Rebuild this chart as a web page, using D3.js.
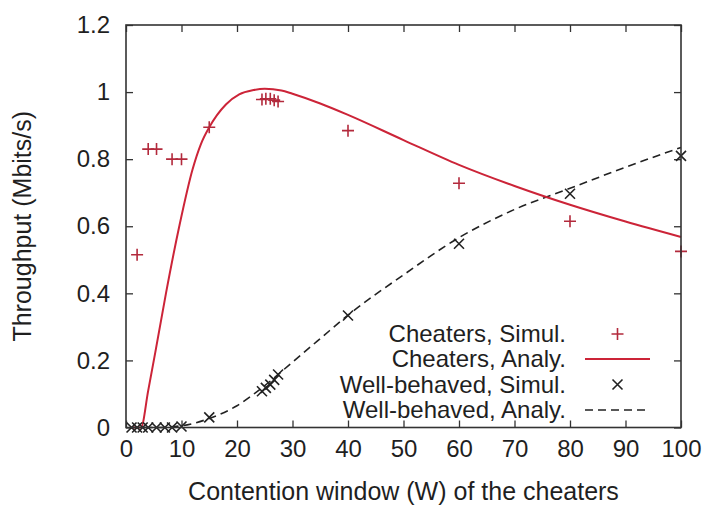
<!DOCTYPE html>
<html>
<head>
<meta charset="utf-8">
<script src="https://cdn.jsdelivr.net/npm/d3@7"></script>
<style>
  html, body { margin: 0; padding: 0; background: #fff; }
  svg { display: block; }
  text { font-family: "Liberation Sans", Arial, Helvetica, sans-serif; fill: #1f1f1f; }
</style>
</head>
<body>
<svg id="chart" width="706" height="505"></svg>
<script>
// Throughput of cheaters vs. well-behaved stations as a function of the cheaters' contention window

// Cheaters, simulation
const cheatSimW = [2, 4, 5.5, 8.3, 10, 15, 24.5, 25.2, 26, 26.7, 27.4, 40, 60, 80, 100];
const cheatSimT = [0.515, 0.83, 0.83, 0.80, 0.80, 0.895, 0.978, 0.98, 0.98, 0.976, 0.972, 0.885, 0.728, 0.615, 0.525];

// Cheaters, analytical model
const cheatAnaW = [1, 2.7, 4, 5.4, 7.2, 9.6, 12, 13.5, 15, 18, 20.4, 23, 25, 28, 30, 35, 40, 50, 60, 70, 80, 90, 100];
const cheatAnaT = [0, 0, 0.11, 0.235, 0.4, 0.6, 0.77, 0.845, 0.895, 0.963, 0.993, 1.006, 1.01, 1.005, 0.995, 0.966, 0.932, 0.857, 0.783, 0.72, 0.664, 0.614, 0.568];

// Well-behaved stations, simulation
const wellSimW = [1, 2, 3, 4, 5.5, 7, 8.3, 10, 15, 24.5, 25.2, 26, 26.7, 27.4, 40, 60, 80, 100];
const wellSimT = [0, 0, 0, 0, 0, 0, 0, 0.003, 0.03, 0.108, 0.118, 0.128, 0.142, 0.158, 0.334, 0.548, 0.697, 0.81];

// Well-behaved stations, analytical model
const wellAnaW = [1, 5, 10, 15, 20, 25, 30, 35, 40, 50, 60, 70, 80, 90, 100];
const wellAnaT = [0, 0, 0.005, 0.027, 0.065, 0.125, 0.195, 0.265, 0.335, 0.455, 0.566, 0.65, 0.713, 0.776, 0.835];

// Axis ticks and labels
const xTicks = [0, 10, 20, 30, 40, 50, 60, 70, 80, 90, 100];
const yTicks = [0, 0.2, 0.4, 0.6, 0.8, 1, 1.2];
const yTickLabels = ["0", "0.2", "0.4", "0.6", "0.8", "1", "1.2"];
const xTitle = "Contention window (W) of the cheaters";
const yTitle = "Throughput (Mbits/s)";
const legendLabels = ["Cheaters, Simul.", "Cheaters, Analy.", "Well-behaved, Simul.", "Well-behaved, Analy."];

const RED = "#cc2438";
const RED_MARK = "#b32a3c";
const BLACK = "#222";

const svg = d3.select("#chart");
const plot = { left: 126, top: 25, right: 681, bottom: 427.5 };

const x = d3.scaleLinear().domain([0, 100]).range([plot.left, plot.right]);
const y = d3.scaleLinear().domain([0, 1.2]).range([plot.bottom, plot.top]);

const zip = (ws, ts) => ws.map((w, i) => ({ w, t: ts[i] }));

// Axes: inward ticks on all four sides
const tickLen = 7;
const bottom = svg.append("g").attr("transform", `translate(0,${plot.bottom})`)
  .call(d3.axisBottom(x).tickValues(xTicks).tickSize(-tickLen).tickPadding(12).tickFormat(d3.format("d")));
const left = svg.append("g").attr("transform", `translate(${plot.left},0)`)
  .call(d3.axisLeft(y).tickValues(yTicks).tickSize(-tickLen).tickPadding(16)
    .tickFormat((d, i) => yTickLabels[i]));
svg.append("g").attr("transform", `translate(0,${plot.top})`)
  .call(d3.axisTop(x).tickValues(xTicks).tickSize(-tickLen).tickFormat(""));
svg.append("g").attr("transform", `translate(${plot.right},0)`)
  .call(d3.axisRight(y).tickValues(yTicks).tickSize(-tickLen).tickFormat(""));

svg.selectAll(".domain").remove();
svg.selectAll(".tick line").attr("stroke", "#333").attr("stroke-width", 1.3);
svg.selectAll(".tick text").attr("font-size", 24).attr("fill", "#1f1f1f")
  .style("font-family", '"Liberation Sans", Arial, sans-serif');
bottom.selectAll(".tick text").attr("dy", "0.72em");

// Axis titles
svg.append("text")
  .attr("x", (plot.left + plot.right) / 2).attr("y", 500)
  .attr("text-anchor", "middle").attr("font-size", 25)
  .text(xTitle);
svg.append("text")
  .attr("transform", `translate(31,${(plot.top + plot.bottom) / 2}) rotate(-90)`)
  .attr("text-anchor", "middle").attr("font-size", 25)
  .text(yTitle);

// Curves
const line = d3.line().x(d => x(d.w)).y(d => y(d.t)).curve(d3.curveMonotoneX);

svg.append("path").datum(zip(wellAnaW, wellAnaT))
  .attr("d", line).attr("fill", "none")
  .attr("stroke", BLACK).attr("stroke-width", 1.6).attr("stroke-dasharray", "8,5");

svg.append("path").datum(zip(cheatAnaW, cheatAnaT))
  .attr("d", line).attr("fill", "none")
  .attr("stroke", RED).attr("stroke-width", 2);

// Point markers
const plusPath = "M-6,0H6M0,-6V6";
const crossPath = "M-5,-5L5,5M-5,5L5,-5";

svg.append("g").selectAll("path").data(zip(wellSimW, wellSimT)).join("path")
  .attr("transform", d => `translate(${x(d.w)},${y(d.t)})`)
  .attr("d", crossPath).attr("stroke", BLACK).attr("stroke-width", 1.6).attr("fill", "none");

svg.append("g").selectAll("path").data(zip(cheatSimW, cheatSimT)).join("path")
  .attr("transform", d => `translate(${x(d.w)},${y(d.t)})`)
  .attr("d", plusPath).attr("stroke", RED_MARK).attr("stroke-width", 1.6).attr("fill", "none");

// Frame
svg.append("rect")
  .attr("x", plot.left).attr("y", plot.top)
  .attr("width", plot.right - plot.left).attr("height", plot.bottom - plot.top)
  .attr("fill", "none").attr("stroke", "#333").attr("stroke-width", 1.6);

// Legend
const legX = 566, sampleX0 = 585, sampleX1 = 650;
const legRows = [334, 359, 384.5, 410];
const legend = svg.append("g");
legendLabels.forEach((label, i) => {
  legend.append("text")
    .attr("x", legX).attr("y", legRows[i]).attr("dy", "0.35em")
    .attr("text-anchor", "end").attr("font-size", 24)
    .text(label);
});
const midX = (sampleX0 + sampleX1) / 2;
legend.append("path").attr("transform", `translate(${midX},${legRows[0]})`)
  .attr("d", plusPath).attr("stroke", RED_MARK).attr("stroke-width", 1.6);
legend.append("line").attr("x1", sampleX0).attr("x2", sampleX1)
  .attr("y1", legRows[1]).attr("y2", legRows[1])
  .attr("stroke", RED).attr("stroke-width", 2);
legend.append("path").attr("transform", `translate(${midX},${legRows[2]})`)
  .attr("d", crossPath).attr("stroke", BLACK).attr("stroke-width", 1.6);
legend.append("line").attr("x1", sampleX0).attr("x2", sampleX1)
  .attr("y1", legRows[3]).attr("y2", legRows[3])
  .attr("stroke", BLACK).attr("stroke-width", 1.6).attr("stroke-dasharray", "8,5");
</script>
</body>
</html>
